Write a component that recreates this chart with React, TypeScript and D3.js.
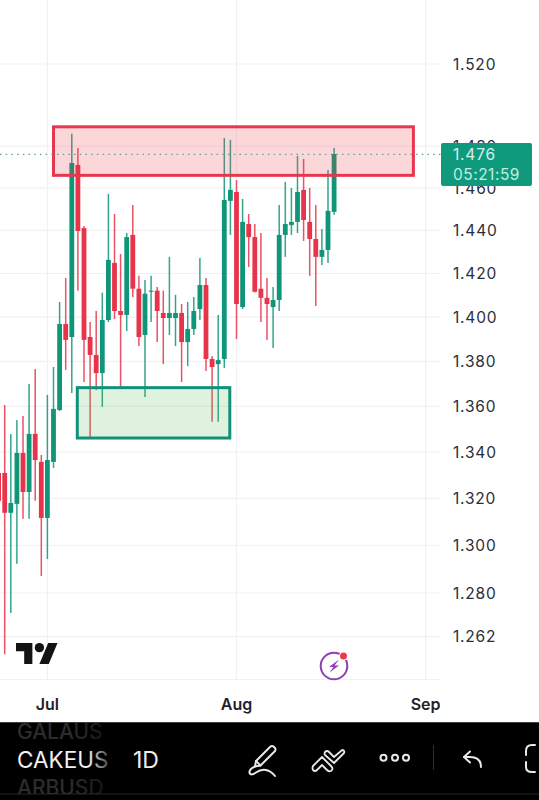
import React from "react";
import * as d3 from "d3";

// Daily candles, first candle is 23 Jun
const firstDay = Date.UTC(2025, 5, 23);
const opens = [1.3309,1.3309,1.3138,1.3176,1.3396,1.3227,1.3479,1.3357,1.3116,1.3357,1.3584,1.3969,1.3910,1.4710,1.4411,1.3910,1.3829,1.3748,1.3987,1.4249,1.4028,1.4010,1.4379,1.4130,1.3919,1.4116,1.4121,1.4019,1.3996,1.3996,1.4019,1.3887,1.3946,1.4037,1.4147,1.3811,1.3788,1.3811,1.4539,1.4581,1.4046,1.4430,1.4369,1.4130,1.4088,1.4046,1.4078,1.4379,1.4425,1.4440,1.4591,1.4440,1.4360,1.4277,1.4309,1.4487];
const closes = [1.3189,1.3138,1.3180,1.3396,1.3227,1.3479,1.3365,1.3116,1.3365,1.3589,1.3969,1.3897,1.4719,1.4397,1.3897,1.3829,1.3748,1.3987,1.4263,1.4028,1.4010,1.4369,1.4130,1.3910,1.4107,1.4121,1.4028,1.3996,1.4019,1.4019,1.3887,1.3946,1.4028,1.4147,1.3811,1.3775,1.3806,1.4543,1.4591,1.4060,1.4440,1.4369,1.4116,1.4088,1.4060,1.4078,1.4379,1.4430,1.4440,1.4581,1.4449,1.4360,1.4277,1.4309,1.4492,1.4762];
const highs = [1.3558,1.3606,1.3479,1.3540,1.3558,1.3699,1.3766,1.3387,1.3651,1.3775,1.4069,1.4179,1.4859,1.4791,1.4421,1.3978,1.4028,1.4112,1.4572,1.4477,1.4290,1.4388,1.4520,1.4189,1.4170,1.4189,1.4138,1.4121,1.4277,1.4102,1.4060,1.4069,1.4092,1.4272,1.4179,1.3824,1.4010,1.4839,1.4830,1.4638,1.4548,1.4477,1.4430,1.4388,1.4179,1.4138,1.4520,1.4629,1.4600,1.4753,1.4738,1.4600,1.4520,1.4407,1.4686,1.4791];
const lows = [1.3112,1.2548,1.2717,1.2922,1.3112,1.3112,1.3189,1.2871,1.2942,1.3331,1.3580,1.3762,1.3659,1.4121,1.3708,1.3461,1.3673,1.3598,1.3978,1.3991,1.3682,1.3937,1.4092,1.3869,1.3642,1.3978,1.3887,1.3788,1.3919,1.3869,1.3708,1.3779,1.3919,1.3987,1.3757,1.3532,1.3532,1.3770,1.4379,1.3901,1.4037,1.4230,1.4112,1.3978,1.3897,1.3860,1.4028,1.4277,1.4379,1.4388,1.4351,1.4189,1.4051,1.4239,1.4249,1.4473];

const priceTicks = [1.52, 1.48, 1.46, 1.44, 1.42, 1.4, 1.38, 1.36, 1.34, 1.32, 1.3, 1.28, 1.262];
const monthTicks = [
  { label: "Jul", date: Date.UTC(2025, 6, 1) },
  { label: "Aug", date: Date.UTC(2025, 7, 1) },
  { label: "Sep", date: Date.UTC(2025, 8, 1) },
];
const lastPrice = 1.476;
const countdown = "05:21:59";
const DAY = 86400000;
const resistanceZone = { from: Date.UTC(2025, 6, 2), to: Date.UTC(2025, 7, 30), top: 1.4893, bottom: 1.466 };
const supportZone = { from: Date.UTC(2025, 6, 5) + DAY * 0.9, to: Date.UTC(2025, 6, 30) + DAY * 0.9, top: 1.3683, bottom: 1.3461 };

const GREEN = "#0f9678";
const RED = "#e8344a";
const FONT = "Inter, 'Liberation Sans', sans-serif";

export default function App() {
  const x = d3.scaleUtc().domain([Date.UTC(2025, 6, 1), Date.UTC(2025, 8, 1)]).range([47.4, 425.6]);
  const y = d3.scaleLog().domain([1.52, 1.28]).range([64, 593]);
  const candles = opens.map((o, i) => ({
    t: firstDay + i * DAY, o, c: closes[i], h: highs[i], l: lows[i],
  }));
  const yLast = y(lastPrice);
  const zoneRect = (z: typeof resistanceZone) => ({
    x: x(z.from), y: y(z.top), width: x(z.to) - x(z.from), height: y(z.bottom) - y(z.top),
  });
  return (
    <svg width={539} height={800} style={{ position: "absolute", left: 0, top: 0, display: "block", background: "#fff" }} fontFamily={FONT}>
      <defs>
        <clipPath id="plot"><rect x={0} y={0} width={440} height={679} /></clipPath>
        <clipPath id="sepClip"><rect x={380} y={690} width={60} height={30} /></clipPath>
        <clipPath id="barClip"><rect x={0} y={723} width={539} height={71} /></clipPath>
        <linearGradient id="fadeW" gradientUnits="userSpaceOnUse" x1={88} x2={110} y1={0} y2={0}>
          <stop offset="0" stopColor="#f2f2f2" />
          <stop offset="1" stopColor="#f2f2f2" stopOpacity={0.25} />
        </linearGradient>
        <linearGradient id="fadeD" gradientUnits="userSpaceOnUse" x1={70} x2={110} y1={0} y2={0}>
          <stop offset="0" stopColor="#2c2c2c" />
          <stop offset="1" stopColor="#2c2c2c" stopOpacity={0.4} />
        </linearGradient>
      </defs>

      {/* grid */}
      <g stroke="#f1f1f3" strokeWidth={1.2}>
        {priceTicks.map((p) => <line key={p} x1={0} x2={440} y1={y(p)} y2={y(p)} />)}
        <line x1={0} x2={440} y1={679.5} y2={679.5} />
        {monthTicks.map((m) => <line key={m.label} x1={x(m.date)} x2={x(m.date)} y1={0} y2={679} />)}
      </g>

      {/* candles */}
      <g clipPath="url(#plot)">
        {candles.map((d) => {
          const col = d.c >= d.o ? GREEN : RED;
          const top = y(Math.max(d.o, d.c));
          const bot = y(Math.min(d.o, d.c));
          return (
            <g key={d.t}>
              <line x1={x(d.t)} x2={x(d.t)} y1={y(d.h)} y2={y(d.l)} stroke={col} strokeWidth={1.5} opacity={0.85} />
              <rect x={x(d.t) - 2.4} y={top} width={4.8} height={Math.max(bot - top, 1)} fill={col} />
            </g>
          );
        })}
      </g>

      {/* zones */}
      <rect {...zoneRect(resistanceZone)} fill="#f23645" fillOpacity={0.2} stroke="#e5384f" strokeWidth={3} />
      <rect {...zoneRect(supportZone)} fill="#4caf50" fillOpacity={0.18} stroke="#12917a" strokeWidth={3} />

      {/* last price line */}
      <line x1={0} x2={441} y1={yLast} y2={yLast} stroke="#5f9f98" strokeWidth={1.2} strokeDasharray="1.5 4.2" />

      {/* price labels */}
      <g fontSize={15.5} fill="#2a2e39" letterSpacing={0.8}>
        {priceTicks.map((p) => (
          <text key={p} x={453} y={y(p)} dy="0.36em">{p.toFixed(3)}</text>
        ))}
      </g>
      <rect x={441} y={143} width={91} height={43} rx={2} fill="#0f9a7e" />
      <text x={453} y={154.5} dy="0.36em" fontSize={15.5} fill="#d5f3ea" letterSpacing={0.8}>{lastPrice.toFixed(3)}</text>
      <text x={453} y={174} dy="0.36em" fontSize={15.5} fill="#c3ede0" letterSpacing={0.5}>{countdown}</text>

      {/* month labels */}
      <g fontSize={16} fontWeight={600} fill="#1f2229" textAnchor="middle">
        {monthTicks.map((m) => (
          <text key={m.label} x={x(m.date)} y={704} dy="0.36em" clipPath={m.label === "Sep" ? "url(#sepClip)" : undefined}>{m.label}</text>
        ))}
      </g>

      {/* TradingView logo */}
      <g transform="translate(16,638.3) scale(1.17)" fill="#131313">
        <path d="M14 22H7V11H0V4h14v18zM28 22h-8l7.5-18h8L28 22z" />
        <circle cx={20} cy={8} r={4} />
      </g>

      {/* lightning badge */}
      <circle cx={334} cy={666} r={13.3} fill="none" stroke="#8d3fb3" strokeWidth={2} />
      <path d="M339 659.5 L329 667 L333.5 667 L329.5 672.5 L339 665.5 L334.5 665.5 Z" fill="#8d3fb3" />
      <circle cx={343.5} cy={656} r={4.6} fill="#fff" />
      <circle cx={343.5} cy={656} r={3.5} fill="#ee3a43" />

      {/* toolbar */}
      <rect x={0} y={722} width={539} height={78} fill="#000" />
      <rect x={0} y={722} width={539} height={1} fill="#3c3c3c" />
      <rect x={0} y={793.5} width={539} height={1} fill="#262626" />
      <g clipPath="url(#barClip)" fontSize={21} fontWeight={500}>
        <text x={17} y={731} dy="0.36em" fill="url(#fadeD)">GALAUS</text>
        <text x={17} y={787} dy="0.36em" fill="url(#fadeD)">ARBUSD</text>
      </g>
      <text x={17} y={759.5} dy="0.36em" fontSize={22.5} fill="url(#fadeW)">CAKEUS</text>
      <text x={133} y={759.5} dy="0.36em" fontSize={23} fill="#ededed">1D</text>
      <g fill="none" stroke="#e8e8e8" strokeWidth={2} strokeLinecap="round" strokeLinejoin="round">
        <path d="M256 761 L270.5 746.5 Q272 745.5 273.5 746.5 L275 748 Q276 749.5 275 751 L260.5 765.5 L255 766.5 Z" />
        <path d="M256 761 L260.5 765.5" />
        <path d="M255 766.5 Q249 769 249.5 773 Q251 776 256 772.5 Q261 769 266 770 Q271 771 275 776" />
        <path d="M313 766 L322 757 L331 766 Q334 769 331 771 Q329 772 327 770 L322 765 L317 770 Q315 772 313 770 Q312 768 313 766 Z" strokeWidth={1.8} />
        <path d="M325 755 L334 763 L344 753 Q345 751 343 750 Q342 750 341 751 L334 757 L329 752 Q327 750 325 752 Q324 754 325 755 Z" strokeWidth={1.8} />
        <circle cx={383.5} cy={757.8} r={3} />
        <circle cx={395} cy={757.8} r={3} />
        <circle cx={406} cy={757.8} r={3} />
        <path d="M481 767 Q481 757 470 757 L464 757" />
        <path d="M470 751.5 L464 757 L470 762.5" />
        <path d="M535 745 L532 745 Q526 745 526 751 L526 755" />
        <path d="M526 762 L526 767 Q526 772 532 772 L535 772" />
      </g>
      <line x1={433.5} x2={433.5} y1={745} y2={770} stroke="#2e2e2e" strokeWidth={1} />
    </svg>
  );
}
